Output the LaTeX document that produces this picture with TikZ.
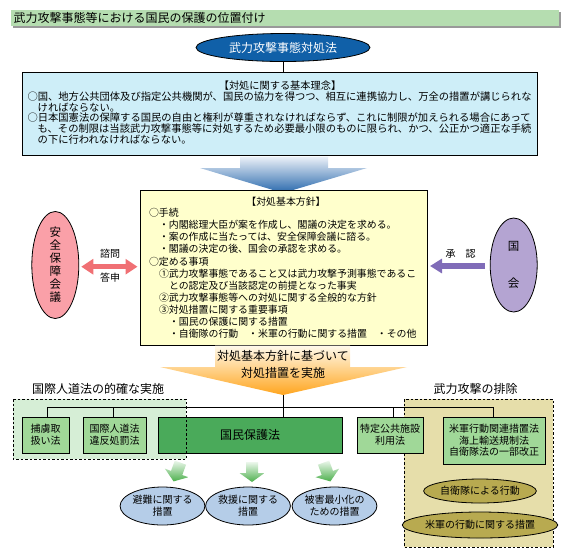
\documentclass[tikz,border=0pt]{standalone}
\usepackage{fontspec}
\setmainfont{Noto Sans CJK JP}
\usetikzlibrary{shapes.geometric,arrows.meta}
\newcommand{\setfs}[2]{\fontsize{#1}{#2}\selectfont}
\definecolor{titlegreen}{RGB}{181,221,176}
\definecolor{topblue}{RGB}{16,96,168}
\definecolor{cyanbox}{RGB}{206,238,248}
\definecolor{yellowbox}{RGB}{255,255,204}
\definecolor{pinkell}{RGB}{250,160,168}
\definecolor{lavell}{RGB}{180,164,210}
\definecolor{pinkarr}{RGB}{240,112,116}
\definecolor{purparr}{RGB}{128,108,184}
\definecolor{lgreenfill}{RGB}{214,238,214}
\definecolor{khakifill}{RGB}{230,222,170}
\definecolor{boxgreen}{RGB}{160,216,152}
\definecolor{darkgreen}{RGB}{74,170,90}
\definecolor{olivefill}{RGB}{184,170,80}
\definecolor{lblue}{RGB}{181,205,232}
\definecolor{blueTop}{RGB}{236,241,248}
\definecolor{blueBot}{RGB}{40,104,172}
\definecolor{orTop}{RGB}{255,250,236}
\definecolor{orBot}{RGB}{255,165,30}
\definecolor{grTop}{RGB}{236,247,236}
\definecolor{grBot}{RGB}{77,176,77}
\begin{document}
\begin{tikzpicture}[x=1pt,y=-1pt,
  every node/.style={inner sep=0pt, outer sep=0pt},
  bord/.style={line width=0.8pt},
  tline/.style={anchor=west, font=\setfs{10.3}{12}},
  mline/.style={anchor=west, font=\setfs{9.9}{12}},
  gbox/.style={draw, bord, fill=boxgreen, minimum height=36pt, align=center, font=\setfs{10}{12}},
  bell/.style={ellipse, draw, bord, fill=lblue, minimum width=79pt, minimum height=38pt, align=center, font=\setfs{10}{12}},
  oell/.style={ellipse, draw, bord, fill=olivefill, align=center, font=\setfs{10}{12}},
  sidel/.style={ellipse, draw, bord, minimum width=47pt, minimum height=94pt, align=center},
  conn/.style={line width=0.8pt},
  lbl/.style={font=\setfs{10}{12}},
  grp/.style={font=\setfs{12}{14}}
]
\useasboundingbox (0,0) rectangle (569,558);

% title bar
\fill[black!40] (12.5,11.5) rectangle (560.5,27.5);
\node[fill=titlegreen, minimum width=548pt, minimum height=16pt, anchor=north west] (titlebar) at (11,10) {};
\node[anchor=west, font=\setfs{12}{14}] (titletext) at (13.5,18.3) {武力攻撃事態等における国民の保護の位置付け};

% top ellipse and principle box
\node[ellipse, draw, bord, fill=topblue, minimum width=174pt, minimum height=28pt, text=white, font=\setfs{12}{14}] (law) at (283,47.5) {武力攻撃事態対処法};
\node[draw, bord, fill=cyanbox, minimum width=514.3pt, minimum height=82.3pt, anchor=north west] (rinen) at (22.7,72.7) {};
\draw[conn] (law.south) -- (law.south |- rinen.north);
\node[font=\setfs{10.2}{12}] (rh) at (280,85.5) {【対処に関する基本理念】};
\node[tline] (r1) at (27.5,96.5) {○国、地方公共団体及び指定公共機関が、国民の協力を得つつ、相互に連携協力し、万全の措置が講じられな};
\node[tline] (r2) at (37.7,107.3) {ければならない。};
\node[tline] (r3) at (27.5,118) {○日本国憲法の保障する国民の自由と権利が尊重されなければならず、これに制限が加えられる場合にあって};
\node[tline] (r4) at (37.7,128.7) {も、その制限は当該武力攻撃事態等に対処するため必要最小限のものに限られ、かつ、公正かつ適正な手続};
\node[tline] (r5) at (37.7,139.5) {の下に行われなければならない。};

% blue block arrow
\shade[top color=blueTop, bottom color=blueBot] (240,156.5) -- (328,156.5) -- (328,168) -- (367,168) -- (283,193) -- (200,168) -- (240,168) -- cycle;

% basic policy box
\node[draw, bord, fill=yellowbox, minimum width=287pt, minimum height=154.5pt, anchor=north west] (hoshin) at (140,190.5) {};
\node[font=\setfs{9.9}{12}] (mh) at (286,201.5) {【対処基本方針】};
\node[mline] (m1) at (149,213) {○手続};
\node[mline] (m2) at (159,225) {・内閣総理大臣が案を作成し、閣議の決定を求める。};
\node[mline] (m3) at (159,237) {・案の作成に当たっては、安全保障会議に諮る。};
\node[mline] (m4) at (159,249) {・閣議の決定の後、国会の承認を求める。};
\node[mline] (m5) at (149,261.5) {○定める事項};
\node[mline] (m6) at (159,273.5) {①武力攻撃事態であること又は武力攻撃予測事態であるこ};
\node[mline] (m7) at (169,285.5) {との認定及び当該認定の前提となった事実};
\node[mline] (m8) at (159,297.5) {②武力攻撃事態等への対処に関する全般的な方針};
\node[mline] (m9) at (159,309.5) {③対処措置に関する重要事項};
\node[mline] (m10) at (169,321.5) {・国民の保護に関する措置};
\node[mline] (m11) at (169,333.5) {・自衛隊の行動　・米軍の行動に関する措置　・その他};

% side ellipses
\node[sidel, fill=pinkell, font=\setfs{11.5}{13}] (anzen) at (55.3,265) {安\\全\\保\\障\\会\\議};
\node[sidel, fill=lavell, font=\setfs{11.5}{36.7}] (kokkai) at (513.7,265) {国\\会};
\draw[line width=5.5pt, draw=pinkarr, {Triangle[length=12pt,width=15pt]}-{Triangle[length=12pt,width=15pt]}, shorten <=2.5pt, shorten >=2.5pt]
  ([yshift=-1.7pt]anzen.east) -- ([yshift=-1.7pt]anzen.east -| hoshin.west);
\node[lbl] (shimon) at (110,253.3) {諮問};
\node[lbl] (toshin) at (110,278) {答申};
\draw[line width=5.3pt, draw=purparr, -{Triangle[length=12pt,width=14pt]}, shorten <=5pt, shorten >=3pt]
  ([yshift=-1pt]kokkai.west) -- ([yshift=-1pt]kokkai.west -| hoshin.east);
\node[lbl] (shonin) at (460.5,254.3) {承　認};

% orange block arrow
\shade[top color=orTop, bottom color=orBot] (215,345.5) -- (350,345.5) -- (350,367) -- (407,367) -- (283,395) -- (160,367) -- (215,367) -- cycle;
\node[font=\setfs{12}{17}, align=center] (jisshi) at (283,364.5) {対処基本方針に基づいて\\対処措置を実施};
\coordinate (apex) at (283,395);

% group areas
\fill[lgreenfill] (13,399) rectangle (186,459);
\fill[khakifill] (404,399) rectangle (553,547);
\draw[bord, dashed, dash pattern=on 2.5pt off 2pt] (404,399) rectangle (553,547);
\node[grp] (gL) at (98,389) {国際人道法の的確な実施};
\node[grp] (gR) at (475.5,389) {武力攻撃の排除};

% bus lines
\coordinate (busL) at (47,407);
\coordinate (busB) at (113,407);
\coordinate (busT) at (393,407);
\coordinate (busR) at (493,407);
\draw[conn] (busL) -- (busR);

% law boxes
\node[gbox, minimum width=47pt] (hoyo) at (45.5,435) {捕虜取\\扱い法};
\node[gbox, minimum width=63pt] (jindo) at (114.5,435) {国際人道法\\違反処罰法};
\node[draw, bord, fill=darkgreen, minimum width=184pt, minimum height=36pt, font=\setfs{12}{14}] (kokumin) at (250,435) {国民保護法};
\node[gbox, minimum width=66pt] (tokutei) at (390,435) {特定公共施設\\利用法};
\node[gbox, minimum width=102pt, minimum height=47pt, font=\setfs{10}{11.6}] (beigun) at (494,440.5) {米軍行動関連措置法\\海上輸送規制法\\自衛隊法の一部改正};

\draw[conn] (busL) -- (busL |- hoyo.north);
\draw[conn] (busB) -- (busB |- jindo.north);
\draw[conn] (apex) -- (apex |- kokumin.north);
\draw[conn] (busT) -- (busT |- tokutei.north);
\draw[conn] (busR) -- (busR |- beigun.north);

\draw[bord, dashed, dash pattern=on 2.5pt off 2pt] (13,399) rectangle (186,459);

% small green arrows
\foreach \ax/\ar in {177/-20, 252/0, 327/20} {
  \begin{scope}[shift={(\ax,472)}, rotate=\ar]
    \shade[top color=grTop, bottom color=grBot] (-6,-10) -- (6,-10) -- (6,1) -- (12.5,1) -- (0,10) -- (-12.5,1) -- (-6,1) -- cycle;
  \end{scope}
}

% measures
\node[bell] (hinan) at (162.5,506) {避難に関する\\措置};
\node[bell] (kyuen) at (248,506) {救援に関する\\措置};
\node[bell] (higai) at (334.5,506) {被害最小化の\\ための措置};

% olive ellipses
\node[oell, minimum width=100pt, minimum height=24pt] (jieitai) at (480,491) {自衛隊による行動};
\node[oell, minimum width=130pt, minimum height=26pt] (beigunkodo) at (480,525) {米軍の行動に関する措置};
\end{tikzpicture}
\end{document}
